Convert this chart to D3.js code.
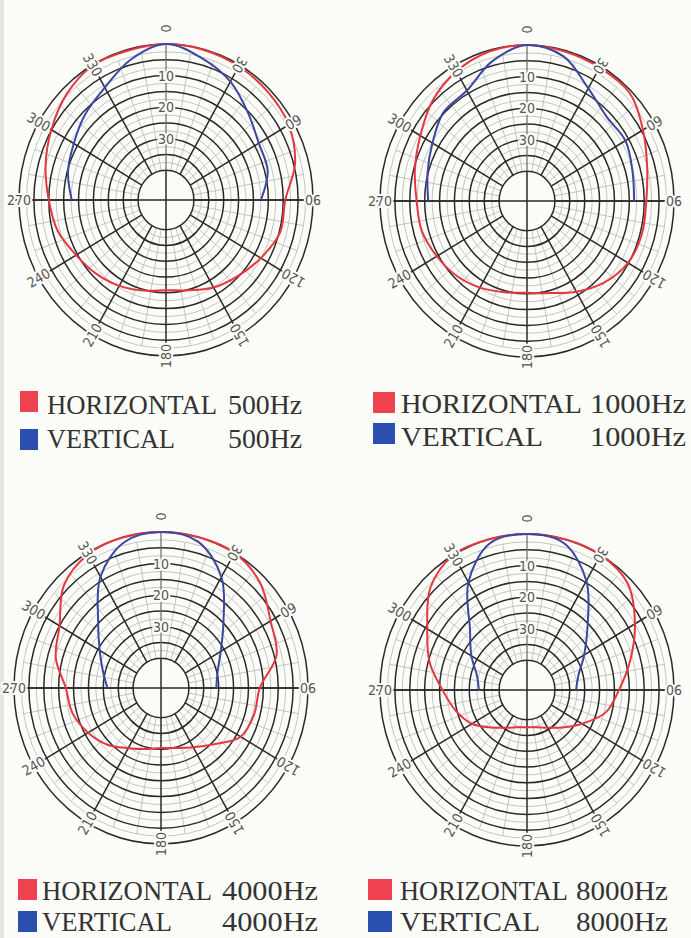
<!DOCTYPE html>
<html>
<head>
<meta charset="utf-8">
<script src="https://cdn.jsdelivr.net/npm/d3@7"></script>
<style>
  body { margin: 0; background: #fcfcf9; }
</style>
</head>
<body>
<div id="chart"></div>
<script>
// angles (deg, clockwise from front) and attenuation in dB below on-axis
var fullAngles = d3.range(0, 360, 15);
var frontAngles = [270, 285, 300, 315, 330, 345, 0, 15, 30, 45, 60, 75, 90];

var h500 = [0, 0.2, 0.5, 1, 1.8, 4.5, 9.3, 9.7, 12.6, 15.3, 17.4, 19.8, 20.8, 19.7, 18, 16.3, 14.5, 11.7, 10, 7.5, 4.9, 2.1, 0.2, 0.4];
var v500 = [17.7, 15.3, 13.6, 11, 8.3, 3.4, 0, 2.9, 6.1, 10.4, 13.4, 14, 17.5];

var h1000 = [0, 0.4, 0.6, 0.8, 4.4, 7.6, 9.3, 9.4, 10.2, 12.8, 16.2, 19.2, 20.3, 19.5, 17.7, 15.9, 14.4, 12.8, 12.3, 10.4, 8, 4.5, 2, 0.4];
var v1000 = [16.2, 14.8, 12.7, 9.7, 9, 3.7, 0, 2, 8.2, 11.6, 11.2, 12.7, 13.4];

var h4000 = [0, 0, 0, 2.3, 6.9, 9.2, 16.2, 17, 18.5, 24.2, 27.7, 29.7, 30.4, 29.4, 27.4, 24, 21.1, 18.6, 17.4, 12.8, 10, 3.3, 0.5, 0];
var v4000 = [31.4, 29.2, 25.6, 19.5, 8.7, 1.6, 0, 1.4, 8.8, 19.7, 26.2, 29.7, 30.8];

var h8000 = [0, 0, 0, 1.6, 7.5, 13.5, 18.5, 22, 28, 32.6, 35.6, 37.2, 37.6, 37.2, 35.6, 32.6, 28, 24.5, 21, 15.5, 10.7, 3.5, 0, 0];
var v8000 = [33.2, 32, 27.8, 22.3, 10, 1.3, 0, 1.3, 9.5, 20.6, 27.2, 31.5, 32.9];

var freqLabels = ["500Hz", "1000Hz", "4000Hz", "8000Hz"];
var seriesNames = ["HORIZONTAL", "VERTICAL"];
var angleTicks = d3.range(0, 360, 30);
var dbTicks = [10, 20, 30];

var W = 691, H = 938;
var bg = "#fcfcf9";
var redCol = "#e5383e", blueCol = "#3a47a3";

var panels = [
  { h: h500, v: v500, cx: 166, cy: 200, leg: { sq: 20, sqw: 18, y1: 391, y2: 429, tx: 47, hw: 170, vw: 128, fx: 302, fw: 74, b1: 414, b2: 448 } },
  { h: h1000, v: v1000, cx: 527, cy: 201, leg: { sq: 373, sqw: 22, y1: 392, y2: 423, tx: 401, hw: 181, vw: 142, fx: 686, fw: 96, b1: 413, b2: 446 } },
  { h: h4000, v: v4000, cx: 161, cy: 688, leg: { sq: 18, sqw: 19, y1: 879, y2: 911, tx: 42, hw: 170, vw: 130, fx: 318, fw: 96, b1: 900, b2: 931 } },
  { h: h8000, v: v8000, cx: 527, cy: 690, leg: { sq: 368, sqw: 24, y1: 879, y2: 911, tx: 400, hw: 168, vw: 140, fx: 668, fw: 92, b1: 900, b2: 931 } }
];

var svg = d3.select("#chart").append("svg")
  .attr("width", W).attr("height", H)
  .style("display", "block");

svg.append("rect").attr("width", W).attr("height", H).attr("fill", bg);
// scanned page edge
svg.append("rect").attr("x", 0).attr("y", 0).attr("width", 4).attr("height", H).attr("fill", "#e6e4df");

var rx = 147, ry = 156;
var rho = d3.scaleLinear().domain([0, 40]).range([1, 0.19]);

function pt(deg, db) {
  var a = deg * Math.PI / 180, p = rho(db);
  return [rx * p * Math.sin(a), -ry * p * Math.cos(a)];
}

function drawPolar(p, i) {
  var g = svg.append("g").attr("transform", "translate(" + p.cx + "," + p.cy + ")");

  // light grid rings
  g.selectAll("ellipse.minor").data(d3.range(2.5, 40, 5)).enter()
    .append("ellipse")
    .attr("rx", d => rx * rho(d)).attr("ry", d => ry * rho(d))
    .attr("fill", "none").attr("stroke", "#bdbdba").attr("stroke-width", 0.9);

  // light spokes every 10 deg
  var minorAng = d3.range(0, 360, 10).filter(a => a % 30 !== 0);
  g.selectAll("line.minor").data(minorAng).enter()
    .append("line")
    .attr("x1", d => pt(d, 40)[0]).attr("y1", d => pt(d, 40)[1])
    .attr("x2", d => pt(d, 2.5)[0]).attr("y2", d => pt(d, 2.5)[1])
    .attr("stroke", "#bdbdba").attr("stroke-width", 0.9);

  // heavy rings every 5 dB
  g.selectAll("ellipse.major").data(d3.range(0, 41, 5)).enter()
    .append("ellipse")
    .attr("rx", d => rx * rho(d)).attr("ry", d => ry * rho(d))
    .attr("fill", "none").attr("stroke", "#2a2a2a").attr("stroke-width", 1.5);

  // heavy spokes every 30 deg (front axis drawn lighter, it carries the dB scale)
  g.selectAll("line.major").data(angleTicks.filter(a => a !== 0)).enter()
    .append("line")
    .attr("x1", d => pt(d, 40)[0]).attr("y1", d => pt(d, 40)[1])
    .attr("x2", d => pt(d, 0)[0]).attr("y2", d => pt(d, 0)[1])
    .attr("stroke", "#2a2a2a").attr("stroke-width", 1.5);
  g.append("line")
    .attr("x1", 0).attr("x2", 0).attr("y1", pt(0, 40)[1]).attr("y2", pt(0, 0)[1])
    .attr("stroke", "#6a6a6a").attr("stroke-width", 1.2);
  // horizontal axis extends a bit past the rim
  g.append("line")
    .attr("x1", -rx - 4).attr("x2", rx + 4).attr("y1", 0).attr("y2", 0)
    .attr("stroke", "#2a2a2a").attr("stroke-width", 1.5);
  g.append("line")
    .attr("x1", 0).attr("x2", 0).attr("y1", -ry * rho(40)).attr("y2", ry * rho(40))
    .attr("stroke", "#2a2a2a").attr("stroke-width", 1.5);

  // curves
  var lineClosed = d3.line().curve(d3.curveCatmullRomClosed.alpha(0.5));
  var lineOpen = d3.line().curve(d3.curveCatmullRom.alpha(0.5));
  var hPts = fullAngles.map((a, k) => pt(a, p.h[k]));
  var vPts = frontAngles.map((a, k) => pt(a, p.v[k]));

  g.append("path").attr("d", lineClosed(hPts))
    .attr("fill", "none").attr("stroke", redCol).attr("stroke-width", 2);
  g.append("path").attr("d", lineOpen(vPts))
    .attr("fill", "none").attr("stroke", blueCol).attr("stroke-width", 2);

  // angle labels, written along the radius
  g.selectAll("text.ang").data(angleTicks).enter()
    .append("text")
    .attr("transform", d => {
      var q = pt(d, 0);
      if (d === 0) q = [0, -ry * 1.1];
      return "translate(" + q[0] + "," + q[1] + ") rotate(" + (d + 90) + ")";
    })
    .attr("text-anchor", "middle").attr("dy", "0.35em")
    .attr("font-family", "'DejaVu Sans Condensed', 'DejaVu Sans', sans-serif")
    .attr("font-size", 14)
    .attr("fill", "#555")
    .attr("stroke", bg).attr("stroke-width", 4).attr("paint-order", "stroke")
    .text(d => d);

  // dB labels on front axis
  g.selectAll("text.db").data(dbTicks).enter()
    .append("text")
    .attr("x", 0).attr("y", d => pt(0, d)[1])
    .attr("text-anchor", "middle").attr("dy", "0.35em")
    .attr("font-family", "'DejaVu Sans Condensed', 'DejaVu Sans', sans-serif")
    .attr("font-size", 14)
    .attr("fill", "#555")
    .attr("stroke", bg).attr("stroke-width", 4).attr("paint-order", "stroke")
    .text(d => d);

  // legend
  var L = p.leg;
  var lg = svg.append("g");
  [redCol, "#2b4fae"].forEach((c, k) => {
    lg.append("rect")
      .attr("x", L.sq).attr("y", k === 0 ? L.y1 : L.y2)
      .attr("width", L.sqw).attr("height", 21)
      .attr("fill", k === 0 ? "#ee4250" : c);
    var base = k === 0 ? L.b1 : L.b2;
    lg.append("text")
      .attr("x", L.tx).attr("y", base)
      .attr("font-family", "'Liberation Serif', 'DejaVu Serif', serif")
      .attr("font-size", 27).attr("fill", "#333")
      .attr("textLength", k === 0 ? L.hw : L.vw).attr("lengthAdjust", "spacingAndGlyphs")
      .text(seriesNames[k]);
    lg.append("text")
      .attr("x", L.fx).attr("y", base)
      .attr("text-anchor", "end")
      .attr("font-family", "'Liberation Serif', 'DejaVu Serif', serif")
      .attr("font-size", 27).attr("fill", "#333")
      .attr("textLength", L.fw).attr("lengthAdjust", "spacingAndGlyphs")
      .text(freqLabels[i]);
  });
}

panels.forEach(drawPolar);
</script>
</body>
</html>
